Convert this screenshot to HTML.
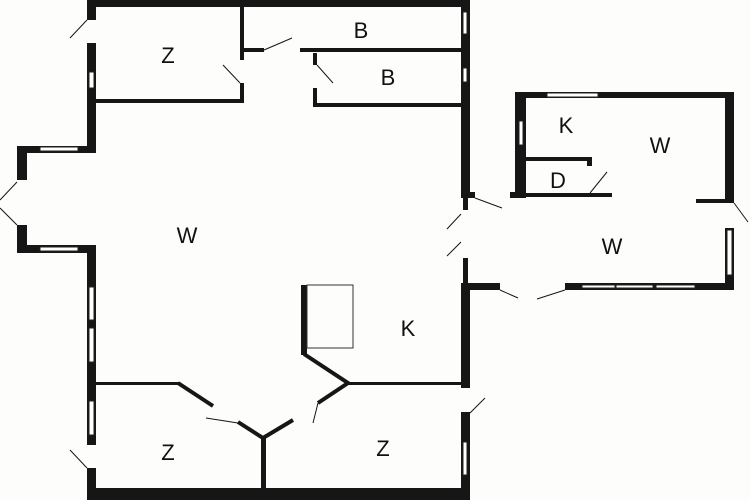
<!DOCTYPE html>
<html><head><style>html,body{margin:0;padding:0;background:#fdfdfc;}svg{display:block}</style></head>
<body>
<svg width="750" height="500" viewBox="0 0 750 500" xmlns="http://www.w3.org/2000/svg" font-family="Liberation Sans, sans-serif">
<rect width="750" height="500" fill="#fdfdfc"/>
<g fill="#161616">
<!-- main outer -->
<rect x="87" y="0" width="383" height="7"/>
<rect x="87" y="0" width="9" height="20"/>
<rect x="87" y="43" width="9" height="110"/>
<rect x="17" y="146" width="79" height="7"/>
<rect x="17" y="146" width="10" height="34"/>
<rect x="17" y="225" width="10" height="28"/>
<rect x="17" y="245" width="79" height="8"/>
<rect x="87" y="245" width="9" height="200"/>
<rect x="87" y="468" width="9" height="32"/>
<rect x="87" y="488" width="383" height="12"/>
<rect x="461" y="0" width="9" height="198"/>
<rect x="461" y="192" width="14" height="6"/>
<rect x="463" y="198" width="5" height="12"/>
<rect x="463" y="258" width="5" height="27"/>
<rect x="461" y="283" width="9" height="105"/>
<rect x="461" y="412" width="9" height="88"/>
<!-- annex -->
<rect x="461" y="283" width="39" height="7"/>
<rect x="565" y="283" width="169" height="7"/>
<rect x="515" y="92" width="219" height="6"/>
<rect x="515" y="92" width="11" height="106"/>
<rect x="510" y="192" width="16" height="6"/>
<rect x="725" y="92" width="9" height="108"/>
<rect x="696" y="199" width="38" height="4"/>
<rect x="725" y="228" width="9" height="62"/>
<rect x="526" y="157" width="64" height="4"/>
<rect x="587" y="157" width="5" height="9"/>
<rect x="526" y="193" width="86" height="4"/>
<!-- interior -->
<rect x="96" y="99" width="148" height="4"/>
<rect x="240" y="7" width="4" height="53"/>
<rect x="240" y="83" width="4" height="20"/>
<rect x="244" y="48" width="20" height="4"/>
<rect x="300" y="48" width="161" height="4"/>
<rect x="313" y="53" width="4" height="12"/>
<rect x="313" y="88" width="4" height="19"/>
<rect x="313" y="103" width="148" height="4"/>
<rect x="96" y="382" width="83" height="3"/>
<rect x="348" y="382" width="113" height="3"/>
<rect x="261" y="438" width="5" height="52"/>
<rect x="301" y="285" width="6" height="70"/>
</g>
<g stroke="#161616" stroke-width="4" fill="none">
<path d="M178 383 L213 406 M238 422 L263 438 L293 420 M318 403 L348 383 L304 354"/>
</g>
<g stroke="#161616" stroke-width="1" fill="none">
<path d="M70 38 L87 20 M17 182 L0 200 M17 225 L0 208 M70 450 L87 468 M223 65 L240 83 M264 50 L292 38 M317 65 L333 83 M590 193 L607 172 M734 203 L748 222 M475 198 L502 208 M461 214 L447 229 M461 242 L447 256 M470 413 L485 398 M206 418 L238 423 M318 403 L313 423 M500 290 L518 298 M565 290 L537 299"/>
<rect x="307" y="285" width="46" height="63" stroke="#333"/>
</g>
<g fill="#fff" stroke="#222" stroke-width="1">
<rect x="89" y="72" width="5" height="16"/>
<rect x="40" y="147" width="38" height="4"/>
<rect x="40" y="247" width="38" height="4"/>
<rect x="89" y="287" width="5" height="33"/>
<rect x="89" y="328" width="5" height="34"/>
<rect x="89" y="401" width="5" height="34"/>
<rect x="463" y="12" width="4" height="22"/>
<rect x="463" y="68" width="4" height="14"/>
<rect x="463" y="442" width="4" height="33"/>
<rect x="547" y="93" width="51" height="4"/>
<rect x="519" y="121" width="4" height="24"/>
<rect x="727" y="230" width="5" height="45"/>
<rect x="582" y="285" width="33" height="3"/>
<rect x="616" y="285" width="37" height="3"/>
<rect x="656" y="285" width="39" height="3"/>
</g>
<g font-size="22" fill="#111" text-anchor="middle">
<text x="168" y="63">Z</text>
<text x="361" y="38">B</text>
<text x="388" y="85">B</text>
<text x="187" y="243">W</text>
<text x="408" y="336">K</text>
<text x="168" y="460">Z</text>
<text x="383" y="456">Z</text>
<text x="566" y="133">K</text>
<text x="660" y="153">W</text>
<text x="558" y="188">D</text>
<text x="612" y="254">W</text>
</g>
</svg>
</body></html>
